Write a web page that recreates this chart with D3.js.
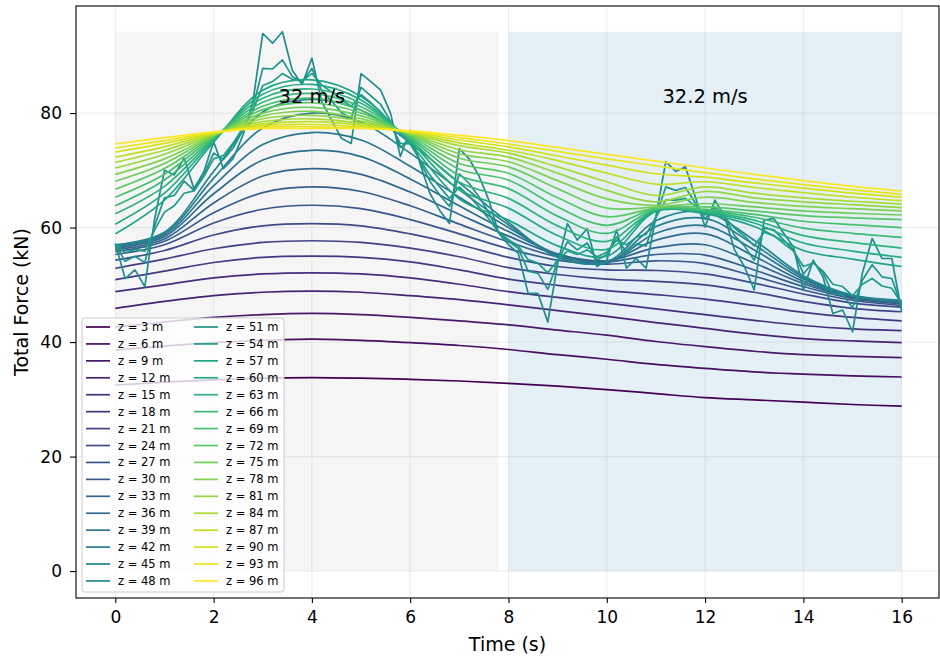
<!DOCTYPE html>
<html lang="en">
<head>
  <meta charset="UTF-8">
  <title>Total Force vs Time</title>
  <script src="https://d3js.org/d3.v7.min.js"></script>
  <style>
    body { margin: 0; background: #fff; }
    text { font-family: "DejaVu Sans", sans-serif; }
  </style>
</head>
<body>
  <svg width="940" height="659"></svg>

  <script>
    // depths (m), one line per depth
    const depths = [3, 6, 9, 12, 15, 18, 21, 24, 27, 30, 33, 36, 39, 42, 45, 48,
                    51, 54, 57, 60, 63, 66, 69, 72, 75, 78, 81, 84, 87, 90, 93, 96];

    // time grids (s)
    const timeCoarse = [0, 1, 2, 3, 4, 5, 6, 7, 8, 9, 10, 11, 12, 13, 14, 15, 16];
    const timeFine = [0, 0.2, 0.4, 0.6, 0.8, 1, 1.2, 1.4, 1.6, 1.8, 2, 2.2, 2.4, 2.6, 2.8,
                      3, 3.2, 3.4, 3.6, 3.8, 4, 4.2, 4.4, 4.6, 4.8, 5, 5.2, 5.4, 5.6, 5.8,
                      6, 6.2, 6.4, 6.6, 6.8, 7, 7.2, 7.4, 7.6, 7.8, 8, 8.2, 8.4, 8.6, 8.8,
                      9, 9.2, 9.4, 9.6, 9.8, 10, 10.2, 10.4, 10.6, 10.8, 11, 11.2, 11.4, 11.6, 11.8,
                      12, 12.2, 12.4, 12.6, 12.8, 13, 13.2, 13.4, 13.6, 13.8, 14, 14.2, 14.4, 14.6, 14.8,
                      15, 15.2, 15.4, 15.6, 15.8, 16];

    // total force (kN) on the coarse grid
    const f03 = [32.5, 33.0, 33.4, 33.7, 33.8, 33.7, 33.5, 33.2, 32.8, 32.3, 31.7, 31.0, 30.3, 29.9, 29.5, 29.1, 28.8];
    const f06 = [38.6, 39.3, 39.9, 40.3, 40.5, 40.3, 39.9, 39.4, 38.7, 37.8, 37.0, 36.1, 35.4, 34.8, 34.4, 34.1, 33.9];
    const f09 = [42.6, 43.5, 44.3, 44.8, 45.0, 44.8, 44.3, 43.7, 43.0, 42.1, 41.2, 40.1, 39.2, 38.4, 37.8, 37.5, 37.3];
    const f12 = [45.9, 47.1, 48.1, 48.7, 48.9, 48.7, 48.1, 47.4, 46.5, 45.5, 44.5, 43.4, 42.4, 41.4, 40.6, 40.2, 39.9];
    const f15 = [48.8, 50.0, 51.2, 51.9, 52.1, 51.9, 51.2, 50.1, 48.8, 47.8, 46.8, 45.8, 44.8, 43.8, 42.9, 42.3, 42.0];
    const f18 = [50.9, 52.4, 53.9, 54.8, 55.0, 54.8, 54.0, 52.6, 51.0, 49.9, 49.0, 48.3, 47.5, 46.4, 45.2, 44.3, 43.7];
    const f21 = [52.9, 54.5, 56.3, 57.4, 57.7, 57.4, 56.4, 54.9, 53.0, 51.8, 51.0, 50.6, 50.0, 48.7, 47.1, 45.9, 45.3];
    const f24 = [54.3, 56.0, 58.7, 60.3, 60.7, 60.3, 58.9, 57.0, 54.8, 53.2, 52.6, 52.5, 51.9, 50.3, 48.4, 46.8, 46.1];
    const f27 = [55.3, 57.0, 60.8, 63.2, 63.9, 63.3, 61.4, 58.9, 56.3, 54.3, 53.6, 54.2, 53.7, 51.5, 49.1, 47.3, 46.4];
    const f30 = [55.8, 57.6, 62.6, 66.1, 67.1, 66.3, 63.8, 60.6, 57.5, 54.9, 54.0, 55.3, 55.2, 52.6, 49.7, 47.6, 46.7];
    const f33 = [56.1, 58.0, 64.3, 69.0, 70.3, 69.3, 66.2, 62.3, 58.5, 55.3, 54.2, 56.5, 57.0, 53.8, 50.2, 47.8, 46.9];
    const f36 = [56.4, 58.4, 65.9, 71.8, 73.5, 72.4, 68.5, 63.8, 59.3, 55.4, 54.1, 57.8, 58.9, 55.0, 50.6, 47.9, 47.0];
    const f39 = [56.7, 58.7, 67.3, 74.5, 76.6, 75.3, 70.7, 65.3, 60.0, 55.3, 53.9, 59.0, 60.3, 56.1, 51.0, 48.0, 47.1];
    const f42 = [56.9, 59.0, 68.6, 77.4, 80.0, 78.4, 73.0, 66.6, 60.5, 55.0, 53.8, 60.2, 61.6, 57.0, 51.3, 48.1, 47.2];
    const f45 = [57.0, 59.2, 69.8, 80.2, 82.4, 80.5, 74.8, 67.8, 60.9, 54.8, 54.0, 61.2, 62.7, 57.8, 51.6, 48.2, 47.3];
    const f57 = [58.9, 64.8, 74.9, 84.0, 85.8, 82.9, 74.6, 65.0, 61.3, 56.8, 55.0, 62.8, 62.4, 60.2, 56.0, 54.5, 53.2];
    const f60 = [60.6, 66.0, 75.2, 83.3, 85.0, 82.3, 75.0, 66.6, 63.4, 58.6, 56.2, 63.0, 62.6, 60.8, 57.3, 55.9, 54.8];
    const f63 = [62.4, 67.2, 75.4, 82.6, 84.2, 81.7, 75.3, 67.9, 65.1, 60.3, 57.6, 63.1, 62.8, 61.3, 58.6, 57.4, 56.4];
    const f66 = [63.8, 68.3, 75.6, 81.9, 83.4, 81.1, 75.6, 69.1, 66.8, 62.0, 59.0, 63.2, 63.0, 61.8, 59.9, 59.0, 58.3];
    const f69 = [65.3, 69.3, 75.8, 81.2, 82.6, 80.5, 75.8, 70.2, 68.3, 63.6, 60.4, 63.3, 63.2, 62.3, 61.1, 60.5, 60.0];
    const f72 = [66.7, 70.3, 75.9, 80.6, 81.8, 80.0, 76.0, 71.2, 69.5, 65.2, 61.9, 63.4, 63.6, 62.9, 62.1, 61.7, 61.4];
    const f75 = [68.1, 71.2, 76.0, 80.0, 81.0, 79.5, 76.2, 72.1, 70.6, 66.8, 63.4, 63.6, 64.2, 63.6, 62.9, 62.5, 62.2];
    const f78 = [69.3, 72.0, 76.1, 79.5, 80.3, 79.0, 76.3, 72.9, 71.5, 68.2, 65.0, 63.9, 65.3, 64.4, 63.7, 63.3, 62.9];
    const f81 = [70.4, 72.8, 76.2, 79.0, 79.6, 78.6, 76.4, 73.6, 72.3, 69.5, 66.5, 64.5, 66.3, 65.2, 64.5, 64.0, 63.5];
    const f84 = [71.4, 73.5, 76.3, 78.5, 79.0, 78.2, 76.5, 74.3, 73.0, 70.6, 68.0, 65.6, 67.1, 66.0, 65.2, 64.6, 64.1];
    const f87 = [72.3, 74.1, 76.4, 78.1, 78.5, 77.9, 76.6, 74.8, 73.5, 71.7, 69.5, 67.6, 68.0, 67.0, 66.1, 65.3, 64.7];
    const f90 = [73.2, 74.7, 76.5, 77.8, 78.0, 77.6, 76.7, 75.3, 74.1, 72.5, 70.9, 69.4, 68.8, 67.8, 66.9, 66.0, 65.3];
    const f93 = [73.9, 75.2, 76.6, 77.5, 77.6, 77.4, 76.8, 75.7, 74.6, 73.3, 72.0, 70.8, 69.6, 68.5, 67.5, 66.6, 65.8];
    const f96 = [74.6, 75.7, 76.7, 77.3, 77.3, 77.3, 76.9, 76.1, 75.2, 74.0, 72.8, 71.6, 70.4, 69.3, 68.2, 67.2, 66.4];

    // the three noisy depths, on the fine grid
    const f48 = [57.2, 51.1, 52.6, 49.7, 61.5, 70.0, 69.2, 72.1, 66.8, 69.7,
                 75.0, 70.3, 72.1, 76.2, 82.0, 93.9, 92.2, 94.2, 87.5, 85.0,
                 89.6, 82.0, 78.8, 75.6, 74.7, 86.9, 85.5, 84.0, 80.0, 72.4,
                 77.0, 71.2, 66.0, 63.0, 60.7, 73.8, 72.0, 69.0, 64.8, 59.0,
                 57.0, 55.5, 48.5, 48.5, 43.5, 53.7, 60.7, 57.8, 59.8, 53.2,
                 54.3, 59.6, 52.9, 54.6, 52.9, 61.9, 71.5, 69.8, 70.6, 65.4,
                 60.1, 64.8, 61.9, 56.1, 53.2, 49.1, 61.3, 61.6, 59.0, 56.6,
                 49.1, 54.3, 51.4, 45.0, 45.6, 41.8, 52.0, 58.1, 54.6, 54.6,
                 45.3];
    const f51 = [57.1, 54.1, 55.0, 53.9, 60.3, 65.2, 65.6, 68.1, 66.5, 69.2,
                 73.0, 71.9, 73.9, 77.1, 81.0, 87.8, 87.7, 89.3, 86.4, 85.4,
                 87.8, 83.9, 82.1, 80.1, 79.1, 84.5, 83.0, 81.5, 78.6, 74.0,
                 75.4, 71.6, 68.1, 65.7, 63.7, 69.4, 67.7, 65.4, 62.6, 59.1,
                 57.6, 56.4, 52.4, 52.0, 49.2, 54.1, 57.5, 56.1, 57.3, 54.3,
                 55.3, 58.4, 55.6, 57.1, 56.8, 61.9, 67.1, 66.5, 67.0, 64.3,
                 61.5, 63.6, 61.9, 58.6, 56.8, 54.3, 59.9, 59.6, 57.8, 56.1,
                 51.9, 54.0, 52.1, 48.4, 48.3, 46.0, 50.8, 53.5, 51.4, 51.1,
                 46.2];
    const f54 = [57.1, 55.6, 56.2, 55.9, 59.6, 62.7, 63.8, 66.0, 66.4, 68.9,
                 72.0, 72.6, 74.8, 77.5, 80.4, 84.8, 85.5, 86.9, 85.9, 85.6,
                 86.9, 84.9, 83.7, 82.3, 81.2, 83.2, 81.8, 80.2, 77.9, 74.7,
                 74.6, 71.8, 69.2, 67.1, 65.1, 67.1, 65.5, 63.6, 61.5, 59.2,
                 57.9, 56.8, 54.4, 53.8, 52.1, 54.3, 55.9, 55.3, 56.1, 54.9,
                 55.7, 57.8, 57.0, 58.3, 58.8, 61.8, 64.8, 64.8, 65.1, 63.8,
                 62.2, 63.0, 61.8, 59.9, 58.5, 56.8, 59.2, 58.6, 57.2, 55.9,
                 53.2, 53.8, 52.4, 50.1, 49.7, 48.1, 50.1, 51.1, 49.8, 49.4,
                 46.7];

    const forceByDepth = [f03, f06, f09, f12, f15, f18, f21, f24, f27, f30, f33, f36, f39, f42, f45, f48,
                          f51, f54, f57, f60, f63, f66, f69, f72, f75, f78, f81, f84, f87, f90, f93, f96];

    // shaded phases: [start, end] in s, with their wind speed labels
    const phaseSpans = [[0, 7.8], [8, 16]];
    const phaseLabels = ["32 m/s", "32.2 m/s"];
    const phaseColors = ["#f5f5f5", "#e4eff6"];

    const xTicks = [0, 2, 4, 6, 8, 10, 12, 14, 16];
    const yTicks = [0, 20, 40, 60, 80];

    // build series
    const series = depths.map((z, i) => {
      const vals = forceByDepth[i];
      const times = vals.length === timeFine.length ? timeFine : timeCoarse;
      return {
        z: z,
        noisy: vals.length === timeFine.length,
        color: d3.interpolateViridis(i / (depths.length - 1)),
        points: vals.map((v, k) => ({ t: times[k], v: v }))
      };
    });
    const peak = d3.max(series, s => d3.max(s.points, p => p.v));

    const svg = d3.select("svg");
    const plotL = 76, plotR = 939, plotT = 6, plotB = 598;

    const x = d3.scaleLinear().domain([-0.8, 16.76]).range([plotL, plotR]);
    const y = d3.scaleLinear().domain([-4.7, 98.7]).range([plotB, plotT]);

    svg.append("defs").append("clipPath").attr("id", "plotClip")
      .append("rect").attr("x", plotL).attr("y", plotT)
      .attr("width", plotR - plotL).attr("height", plotB - plotT);

    // phase shading
    svg.append("g").selectAll("rect")
      .data(phaseSpans)
      .enter().append("rect")
      .attr("x", d => x(d[0]))
      .attr("width", d => x(d[1]) - x(d[0]))
      .attr("y", y(peak))
      .attr("height", y(0) - y(peak))
      .attr("fill", (d, i) => phaseColors[i]);

    // grid
    const grid = svg.append("g").attr("stroke", "#b0b0b0").attr("stroke-opacity", 0.3).attr("stroke-width", 0.8);
    grid.selectAll(".gx").data(xTicks).enter().append("line")
      .attr("x1", d => x(d)).attr("x2", d => x(d)).attr("y1", plotT).attr("y2", plotB);
    grid.selectAll(".gy").data(yTicks).enter().append("line")
      .attr("y1", d => y(d)).attr("y2", d => y(d)).attr("x1", plotL).attr("x2", plotR);

    // lines
    const smoothLine = d3.line().x(d => x(d.t)).y(d => y(d.v)).curve(d3.curveCatmullRom.alpha(0.5));
    const rawLine = d3.line().x(d => x(d.t)).y(d => y(d.v));

    svg.append("g").attr("clip-path", "url(#plotClip)")
      .selectAll("path")
      .data(series)
      .enter().append("path")
      .attr("d", d => d.noisy ? rawLine(d.points) : smoothLine(d.points))
      .attr("fill", "none")
      .attr("stroke", d => d.color)
      .attr("stroke-width", 1.7)
      .attr("stroke-linejoin", "round");

    // phase labels
    svg.append("g").selectAll("text")
      .data(phaseSpans)
      .enter().append("text")
      .attr("x", d => x((d[0] + d[1]) / 2 + (d[0] === 0 ? 0.1 : 0)))
      .attr("y", y(83))
      .attr("dy", "0.35em")
      .attr("text-anchor", "middle")
      .attr("font-size", 19.5)
      .attr("fill", "#000")
      .text((d, i) => phaseLabels[i]);

    // axes
    const xAxis = d3.axisBottom(x).tickValues(xTicks).tickSize(5).tickPadding(8);
    const yAxis = d3.axisLeft(y).tickValues(yTicks).tickSize(6).tickPadding(8);

    svg.append("g").attr("transform", `translate(0,${plotB})`).call(xAxis)
      .call(g => g.select(".domain").remove())
      .call(g => g.selectAll("line").attr("stroke-width", 1.1))
      .call(g => g.selectAll("text").attr("font-size", 17).attr("font-family", "DejaVu Sans").attr("fill", "#000"));
    svg.append("g").attr("transform", `translate(${plotL},0)`).call(yAxis)
      .call(g => g.select(".domain").remove())
      .call(g => g.selectAll("line").attr("stroke-width", 1.1))
      .call(g => g.selectAll("text").attr("font-size", 17).attr("font-family", "DejaVu Sans").attr("fill", "#000"));

    // frame
    svg.append("rect")
      .attr("x", plotL).attr("y", plotT)
      .attr("width", plotR - plotL).attr("height", plotB - plotT)
      .attr("fill", "none").attr("stroke", "#000").attr("stroke-width", 1.1);

    svg.append("text")
      .attr("x", (plotL + plotR) / 2).attr("y", 651)
      .attr("text-anchor", "middle").attr("font-size", 19)
      .text("Time (s)");
    svg.append("text")
      .attr("transform", `translate(27.5,${(plotT + plotB) / 2}) rotate(-90)`)
      .attr("text-anchor", "middle").attr("font-size", 19)
      .text("Total Force (kN)");

    // legend, two columns of 16
    const legend = svg.append("g");
    const rowH = 16.93, colW = 108;
    legend.append("rect")
      .attr("x", 82).attr("y", 318).attr("width", 202).attr("height", 274)
      .attr("rx", 3)
      .attr("fill", "#fff").attr("fill-opacity", 0.8)
      .attr("stroke", "#ccc").attr("stroke-width", 1);

    const item = legend.selectAll(".item")
      .data(series)
      .enter().append("g")
      .attr("transform", (d, i) => `translate(${86 + Math.floor(i / 16) * colW},${327 + (i % 16) * rowH})`);
    item.append("line")
      .attr("x1", 0).attr("x2", 24)
      .attr("stroke", d => d.color).attr("stroke-width", 1.7);
    item.append("text")
      .attr("x", 32).attr("dy", "0.35em")
      .attr("font-size", 11.5)
      .text(d => `z = ${d.z} m`);
  </script>
</body>
</html>
